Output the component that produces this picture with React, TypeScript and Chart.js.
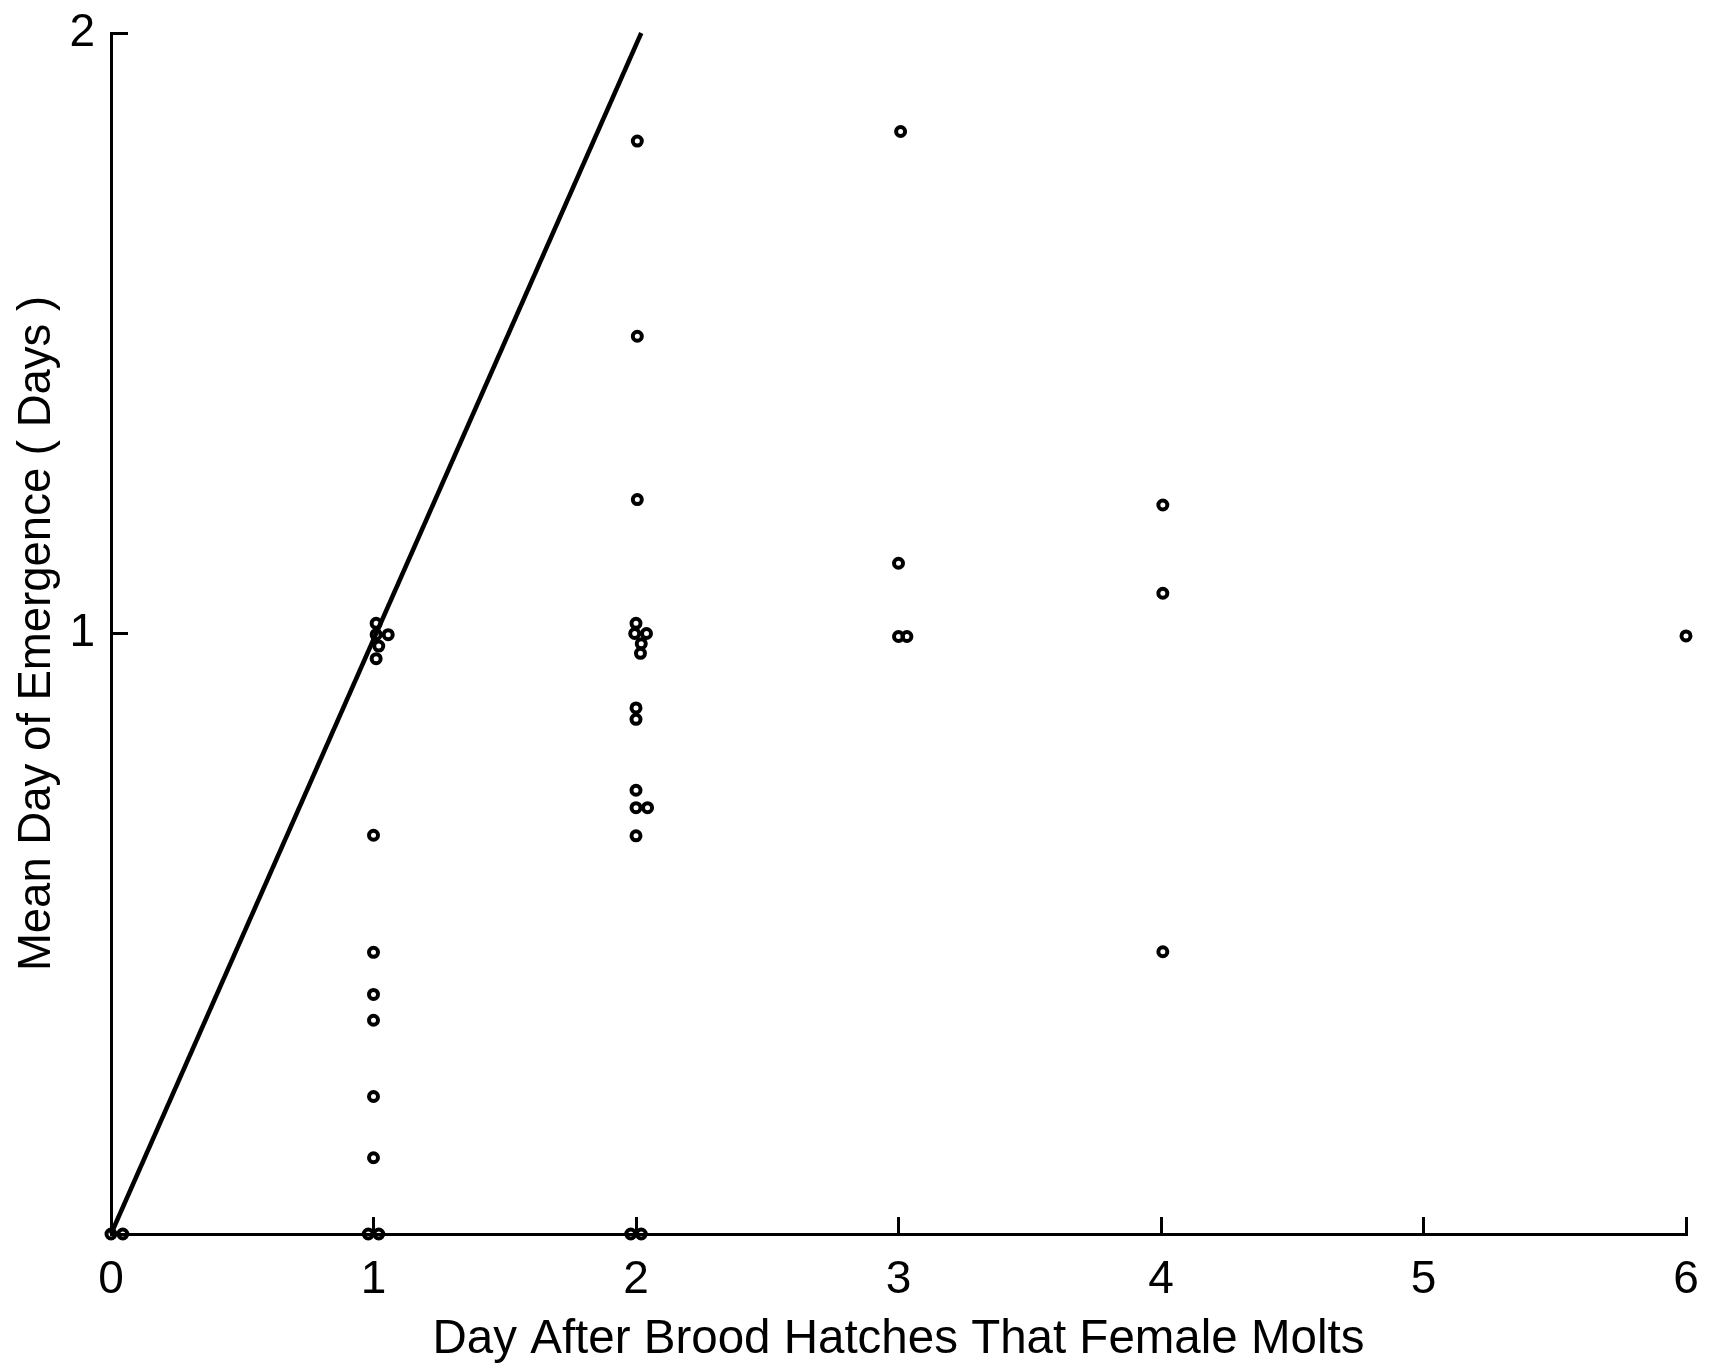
import React, { useEffect, useRef } from "react";
import { Chart, registerables } from "chart.js";

Chart.register(...registerables);

// Day after brood hatches that female molts (x) and mean day of emergence (y)
const moltDay: number[] = [
  0, 0.045,
  0.98, 1.02, 1.0, 1.0, 1.0, 1.0, 1.0, 1.0, 1.01, 1.02, 1.01, 1.056, 1.01,
  1.98, 2.02, 2.0, 2.0, 2.044, 2.0, 2.0, 2.0, 2.017, 2.02, 1.995, 2.04, 2.0, 2.005, 2.005, 2.005,
  3.0, 3.032, 3.0, 3.008,
  4.007, 4.007, 4.007,
  6.0,
];
const emergenceDay: number[] = [
  0, 0,
  0, 0, 0.127, 0.229, 0.356, 0.399, 0.469, 0.664, 0.958, 0.979, 0.998, 0.998, 1.017,
  0, 0, 0.663, 0.71, 0.71, 0.739, 0.857, 0.876, 0.967, 0.983, 1.0, 1.0, 1.017, 1.223, 1.495, 1.82,
  0.995, 0.995, 1.117, 1.836,
  0.47, 1.067, 1.214,
  0.996,
];

// Reference line (y = x)
const lineX: number[] = [0, 2.02];
const lineY: number[] = [0, 2];

const xTicks: number[] = [0, 1, 2, 3, 4, 5, 6];
const yTicks: number[] = [0, 1, 2];

const xTitle = "Day After Brood Hatches That Female Molts";
const yTitle = "Mean Day of Emergence ( Days )";

export default function App() {
  const ref = useRef<HTMLCanvasElement | null>(null);

  useEffect(() => {
    if (!ref.current) return;
    const points = moltDay.map((x, i) => ({ x, y: emergenceDay[i] }));
    const line = lineX.map((x, i) => ({ x, y: lineY[i] }));
    const font = "'Liberation Sans', Arial, sans-serif";

    const chart = new Chart(ref.current, {
      type: "scatter",
      data: {
        datasets: [
          {
            type: "line",
            data: line,
            borderColor: "#000",
            borderWidth: 4.5,
            pointRadius: 0,
            fill: false,
            clip: false as any,
          },
          {
            data: points,
            borderColor: "#000",
            backgroundColor: "rgba(0,0,0,0)",
            borderWidth: 4,
            pointRadius: 4.5,
            pointStyle: "circle",
            clip: false as any,
          },
        ],
      },
      options: {
        animation: false,
        responsive: false,
        devicePixelRatio: 1,
        layout: { padding: { left: 0, top: 33, right: 34, bottom: 0 } },
        plugins: {
          legend: { display: false },
          tooltip: { enabled: false },
        },
        scales: {
          x: {
            type: "linear",
            min: 0,
            max: 6,
            afterBuildTicks: (scale: any) => {
              scale.ticks = xTicks.map((v) => ({ value: v }));
            },
            afterFit: (scale: any) => {
              scale.height = 134;
              scale.paddingLeft = 0;
              scale.paddingRight = 0;
            },
            grid: {
              drawOnChartArea: false,
              drawTicks: true,
              tickLength: -17,
              color: "#000",
              lineWidth: 3,
            },
            border: { display: true, color: "#000", width: 3 },
            ticks: {
              color: "#000",
              padding: 36,
              font: { family: font, size: 46 },
              maxRotation: 0,
              callback: (v: any) => String(v),
            },
            title: {
              display: true,
              text: xTitle,
              color: "#000",
              font: { family: font, size: 47.5 },
              padding: { top: 0, bottom: 0 },
            },
          },
          y: {
            type: "linear",
            min: 0,
            max: 2,
            afterBuildTicks: (scale: any) => {
              scale.ticks = yTicks.map((v) => ({ value: v }));
            },
            afterFit: (scale: any) => {
              scale.width = 111;
              scale.paddingTop = 0;
              scale.paddingBottom = 0;
            },
            grid: {
              drawOnChartArea: false,
              drawTicks: true,
              tickLength: -17,
              color: "#000",
              lineWidth: 3,
            },
            border: { display: true, color: "#000", width: 3 },
            ticks: {
              color: "#000",
              padding: 33,
              font: { family: font, size: 46 },
              callback: (v: any) => (v === 0 ? "" : String(v)),
            },
            title: {
              display: true,
              text: yTitle,
              color: "#000",
              font: { family: font, size: 45.5 },
              padding: { top: 10, bottom: 0 },
            },
          },
        },
      },
    });
    return () => chart.destroy();
  }, []);

  return (
    <div style={{ position: "fixed", left: 0, top: 0, width: 1720, height: 1368, background: "#fff" }}>
      <canvas ref={ref} width={1720} height={1368} style={{ width: 1720, height: 1368, display: "block" }} />
    </div>
  );
}
